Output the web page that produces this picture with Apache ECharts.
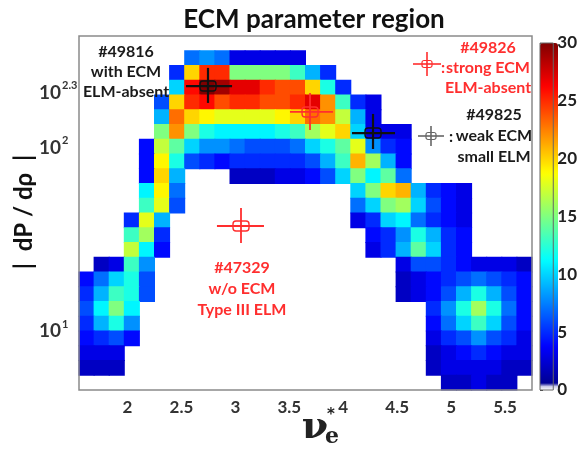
<!DOCTYPE html>
<html><head><meta charset="utf-8">
<script src="https://cdn.jsdelivr.net/npm/echarts@6/dist/echarts.min.js"></script>
<style>html,body{margin:0;padding:0;background:#fff}#c{width:580px;height:450px}</style>
</head><body><div id="c"></div>
<script>
// ---- axis setup ----
const xMin = 1.55, xMax = 5.75, nCols = 30;      // nu_e* range, 30 bins of 0.14
const yMin = 0.67, yMax = 2.6, nRows = 24;       // log10 |dP/drho| display range, 24 bins
const xTicks = [2, 2.5, 3, 3.5, 4, 4.5, 5, 5.5];
const yTickExponents = [1, 2, 2.3];
const cbarMin = 0, cbarMax = 30, cbarStep = 5;

// ---- density values: [row (top=0), first column, values...] ----
const heatRows = [
  [1, 7, [7,8,7,3,3,3,3,3]],
  [2, 6, [5,20,25,25,15,15,15,15,13,9,5]],
  [3, 6, [10,26,30,29,27,27,25,24,24,20,12,5]],
  [4, 5, [6,20,25,26,24,25,25,24,24,25,27,22,13,5,3]],
  [5, 5, [9,23,20,19,18,18,18,18,19,20,23,22,17,9,3]],
  [6, 5, [15,22,15,12,11,11,11,11,12,13,16,18,20,10,3,3,3]],
  [7, 4, [4,17,14,10,8,8,7,6,6,6,7,10,12,14,18,8,5,4]],
  [8, 4, [4,19,12,6,5,4,5,5,5,5,5,6,9,13,21,16,9,4]],
  [9, 4, [4,20,9]], [9, 10, [2,2,2,3,3,4,6,10,15,11,14,7]],
  [10, 4, [11,19,7]], [10, 18, [10,15,20,21,9,5,4,3]],
  [11, 4, [13,18,6]], [11, 18, [7,10,15,16,10,6,4,3]],
  [12, 3, [5,18,9]], [12, 18, [3,5,10,11,7,5,4,3]],
  [13, 3, [13,16,5]], [13, 19, [4,5,8,12,9,5,4]],
  [14, 3, [17,11,4]], [14, 19, [3,5,9,14,10,5,4]],
  [15, 1, [2,3,13,8]], [15, 21, [3,6,6,5,4,3,3,3,2]],
  [16, 0, [4,7,10,12,6]], [16, 21, [2,3,4,5,6,7,6,5,4]],
  [17, 0, [5,9,13,12,6]], [17, 21, [2,3,4,6,9,12,9,6,4]],
  [18, 0, [6,11,15,11]], [18, 23, [5,8,12,16,12,7,4]],
  [19, 0, [5,9,12,8]], [19, 23, [4,7,10,13,10,6,4]],
  [20, 0, [4,5,6,4]], [20, 23, [3,5,6,8,6,5,3]],
  [21, 0, [3,3,3]], [21, 23, [2,3,4,5,4,3,3]],
  [22, 0, [2,2,2]], [22, 23, [2,3,3,3,3,2,2]],
  [23, 24, [2,2,3,2,2]]
];

// ---- shot markers: [nu, log10 y, nu_lo, nu_hi, y_lo, y_hi] ----
const blackShots = [
  [2.746, 2.327, 2.542, 2.969, 2.235, 2.426],  // #49816
  [4.276, 2.071, 4.081, 4.480, 1.984, 2.175]   // #49825
];
const redShots = [
  [3.692, 2.186, 3.506, 3.905, 2.088, 2.289],  // #49826
  [3.052, 1.564, 2.829, 3.265, 1.471, 1.662]   // #47329
];

// ---- build ----
const xCats = [], yCats = [];
for (let i = 0; i < nCols; i++) xCats.push(String(i));
for (let j = 0; j < nRows; j++) yCats.push(String(j));
const heatData = [];
heatRows.forEach(([r, c0, vals]) => vals.forEach((v, k) => heatData.push([c0 + k, r, v])));

function jet(t) {
  const f = x => Math.round(255 * Math.max(0, Math.min(1, x)));
  return 'rgb(' + f(1.5 - Math.abs(4 * t - 3)) + ',' + f(1.5 - Math.abs(4 * t - 2)) + ',' + f(1.5 - Math.abs(4 * t - 1)) + ')';
}
const cmap = [];
for (let i = 0; i <= 120; i++) { const v = i * 0.25; cmap.push(v <= 0.25 ? '#ffffff' : jet(v / 30)); }

const FONT = 'Lato, "Open Sans", sans-serif';

function cellRenderer(params, api) {
  const c = api.coord([api.value(0), api.value(1)]);
  const s = api.size([1, 1]);
  return { type: 'rect',
    shape: { x: c[0] - s[0] / 2 - 0.5, y: c[1] - s[1] / 2 - 0.5, width: s[0] + 1, height: s[1] + 1 },
    style: { fill: api.visual('color') } };
}

function crossRenderer(color, lw) {
  return function (params, api) {
    const c = api.coord([api.value(0), api.value(1)]);
    const l = api.coord([api.value(2), api.value(1)]);
    const r = api.coord([api.value(3), api.value(1)]);
    const b = api.coord([api.value(0), api.value(4)]);
    const t = api.coord([api.value(0), api.value(5)]);
    return { type: 'group', children: [
      { type: 'line', shape: { x1: l[0], y1: c[1], x2: r[0], y2: c[1] }, style: { stroke: color, lineWidth: lw } },
      { type: 'line', shape: { x1: c[0], y1: b[1], x2: c[0], y2: t[1] }, style: { stroke: color, lineWidth: lw } },
      { type: 'rect', shape: { x: c[0] - 8, y: c[1] - 5, width: 16, height: 10, r: 3 }, style: { stroke: color, fill: 'none', lineWidth: 1.4 } }
    ]};
  };
}

function icon(x, y, color, hw, vh) {
  return { type: 'group', x: x, y: y, z: 100, children: [
    { type: 'line', shape: { x1: -hw, y1: 0, x2: hw, y2: 0 }, style: { stroke: color, lineWidth: 1.6 } },
    { type: 'line', shape: { x1: 0, y1: -vh, x2: 0, y2: vh }, style: { stroke: color, lineWidth: 1.6 } },
    { type: 'rect', shape: { x: -5, y: -3.5, width: 10, height: 7, r: 2 }, style: { stroke: color, fill: 'none', lineWidth: 1.2 } }
  ]};
}
function txt(x, y, text, color, size, extra, rot) {
  return { type: 'text', x: x, y: y, z: 100, rotation: rot || 0, style: Object.assign({
    text: text, fill: color, font: 'bold ' + size + 'px ' + FONT, align: 'center', verticalAlign: 'middle'
  }, extra || {}) };
}

const RED = '#ff2e2e';
const chart = echarts.init(document.getElementById('c'), null, { renderer: 'canvas' });
chart.setOption({
  animation: false,
  backgroundColor: '#fff',
  grid: [
    { left: 79, top: 36, width: 453, height: 354, show: true, borderColor: '#8a8a8a', borderWidth: 1.5, backgroundColor: 'transparent', z: 3 },
    { left: 540, top: 43, width: 18, height: 347, show: true, borderColor: '#666', borderWidth: 1, backgroundColor: 'transparent', z: 6 }
  ],
  xAxis: [
    { type: 'category', data: xCats, gridIndex: 0, show: false },
    { type: 'value', gridIndex: 0, min: xMin, max: xMax, position: 'bottom',
      axisLine: { show: false }, axisTick: { show: false }, splitLine: { show: false },
      axisLabel: { customValues: xTicks, margin: 9, color: '#333', fontSize: 17, fontWeight: 'bold', fontFamily: FONT } },
    { type: 'value', gridIndex: 1, show: false, min: 0, max: 1 }
  ],
  yAxis: [
    { type: 'category', data: yCats, gridIndex: 0, inverse: true, show: false },
    { type: 'value', gridIndex: 0, min: yMin, max: yMax, position: 'left',
      axisLine: { show: false }, axisTick: { show: false }, splitLine: { show: false },
      axisLabel: { customValues: yTickExponents, margin: 40, align: 'left',
        formatter: v => '{b|10}{s|' + v + '}',
        rich: {
          b: { fontSize: 19, fontWeight: 'bold', fontFamily: FONT, color: '#333', verticalAlign: 'bottom' },
          s: { fontSize: 11, fontWeight: 'bold', fontFamily: FONT, color: '#333', verticalAlign: 'bottom', padding: [0, 0, 11, 1] }
        } } },
    { type: 'value', gridIndex: 1, min: cbarMin, max: cbarMax, interval: cbarStep, position: 'right',
      axisLine: { show: false }, splitLine: { show: false },
      axisTick: { show: true, inside: false, length: 3, lineStyle: { color: '#444' } },
      axisLabel: { margin: 4, color: '#222', fontSize: 17, fontWeight: 'bold', fontFamily: FONT } }
  ],
  visualMap: {
    type: 'continuous', min: cbarMin, max: cbarMax, seriesIndex: 0, dimension: 2, calculable: false,
    orient: 'vertical', left: 540, top: 43, itemWidth: 18, itemHeight: 347, padding: 0,
    text: null, showLabel: false, hoverLink: false,
    inRange: { color: cmap }
  },
  series: [
    { type: 'custom', name: 'density', xAxisIndex: 0, yAxisIndex: 0, data: heatData,
      encode: { x: 0, y: 1 }, renderItem: cellRenderer, silent: true, z: 2 },
    { type: 'custom', name: 'black shots', xAxisIndex: 1, yAxisIndex: 1, data: blackShots, z: 10,
      encode: { x: [0, 2, 3], y: [1, 4, 5] }, renderItem: crossRenderer('#111', 2.2), silent: true },
    { type: 'custom', name: 'red shots', xAxisIndex: 1, yAxisIndex: 1, data: redShots, z: 10,
      encode: { x: [0, 2, 3], y: [1, 4, 5] }, renderItem: crossRenderer(RED, 1.8), silent: true }
  ],
  graphic: [
    txt(314, 20, 'ECM parameter region', '#111', 26),
    txt(24, 212, '|  dP / d\u03c1  |', '#111', 24, {}, Math.PI / 2),
    txt(126, 72, '#49816\nwith ECM\nELM-absent', '#1a1a1a', 16, { lineHeight: 20 }),
    txt(488, 68, '#49826\nstrong ECM\nELM-absent', RED, 16, { lineHeight: 20 }),
    txt(494, 136, '#49825\nweak ECM\nsmall ELM', '#1a1a1a', 16, { lineHeight: 21 }),
    txt(242, 289, '#47329\nw/o ECM\nType III ELM', RED, 16, { lineHeight: 21 }),
    txt(443, 68, ':', RED, 16),
    txt(451, 137, ':', '#1a1a1a', 16),
    icon(427, 64, RED, 14, 12),
    icon(431, 136, '#666', 13, 10),
    { type: 'text', x: 315, y: 428, z: 100, style: { text: '\u03bd', fill: '#222', font: 'bold 38px "DejaVu Serif", serif', align: 'center', verticalAlign: 'middle' } },
    { type: 'text', x: 331, y: 415, z: 100, style: { text: '*', fill: '#222', font: 'bold 15px "DejaVu Sans", sans-serif', align: 'center', verticalAlign: 'middle' } },
    { type: 'text', x: 332, y: 437, z: 100, style: { text: 'e', fill: '#222', font: 'bold 22px "DejaVu Serif", serif', align: 'center', verticalAlign: 'middle' } }
  ]
});
</script></body></html>
